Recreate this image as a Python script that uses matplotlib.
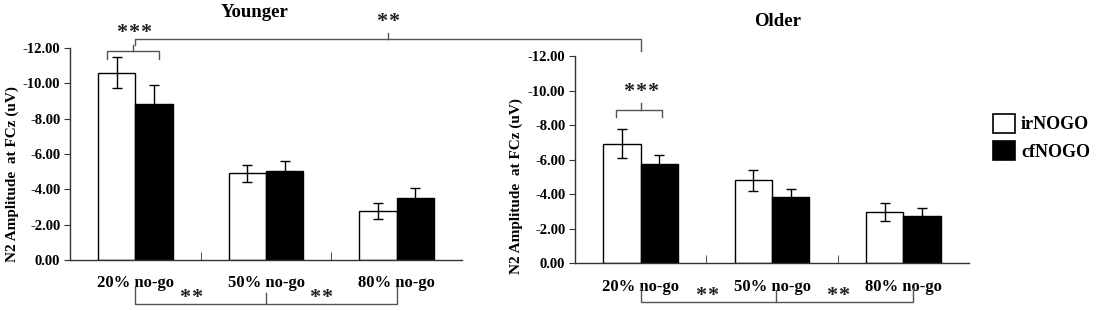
import matplotlib
matplotlib.use("Agg")
import matplotlib.pyplot as plt
from matplotlib.lines import Line2D
from matplotlib.patches import Patch
from matplotlib.ticker import FormatStrFormatter

plt.rcParams['font.family'] = ['Liberation Serif', 'DejaVu Serif']
plt.rcParams['font.weight'] = 'bold'
plt.rcParams['axes.unicode_minus'] = False

conditions = ["20% no-go", "50% no-go", "80% no-go"]
series = ["irNOGO", "cfNOGO"]

# Younger group (N2 amplitude, uV)
young_ir = [-10.60, -4.90, -2.78]
young_ir_err = [0.88, 0.47, 0.46]
young_cf = [-8.83, -5.05, -3.52]
young_cf_err = [1.05, 0.53, 0.53]

# Older group
old_ir = [-6.92, -4.80, -2.95]
old_ir_err = [0.83, 0.62, 0.53]
old_cf = [-5.73, -3.86, -2.76]
old_cf_err = [0.54, 0.46, 0.42]

W, H = 1100, 310
fig = plt.figure(figsize=(W / 100, H / 100), dpi=100)
ax1 = fig.add_axes([70 / W, 50 / H, 392 / W, 212 / H])
ax2 = fig.add_axes([575 / W, 46.7 / H, 394 / W, 207.3 / H])

bw = 0.285
axcol = '#333333'


def draw_panel(ax, ir, ir_err, cf, cf_err):
    x = list(range(len(conditions)))
    ekw = dict(ecolor='black', elinewidth=1, capsize=3.5, capthick=1)
    ax.bar([i - bw / 2 for i in x], ir, bw, yerr=ir_err, color='white',
           edgecolor='black', linewidth=1, error_kw=ekw, zorder=2)
    ax.bar([i + bw / 2 for i in x], cf, bw, yerr=cf_err, color='black',
           edgecolor='black', linewidth=1, error_kw=ekw, zorder=2)
    ax.set_xlim(-0.5, 2.5)
    ax.set_ylim(0, -12)
    ax.set_yticks(range(0, -13, -2))
    ax.yaxis.set_major_formatter(FormatStrFormatter('%.2f'))
    ax.set_xticks(x)
    ax.set_xticklabels(conditions, fontsize=12, fontweight='bold')
    ax.set_xticks([0.5, 1.5], minor=True)
    ax.tick_params(axis='x', which='major', length=0, pad=11)
    ax.tick_params(axis='x', which='minor', direction='in', length=6,
                   color=axcol)
    ax.tick_params(axis='y', direction='out', length=4, color=axcol,
                   labelsize=10.5, pad=3)
    for lab in ax.get_yticklabels():
        lab.set_fontweight('bold')
    for s in ('top', 'right'):
        ax.spines[s].set_visible(False)
    for s in ('left', 'bottom'):
        ax.spines[s].set_color(axcol)
        ax.spines[s].set_linewidth(1)


draw_panel(ax1, young_ir, young_ir_err, young_cf, young_cf_err)
draw_panel(ax2, old_ir, old_ir_err, old_cf, old_cf_err)

ylab = "N2 Amplitude  at FCz (uV)"
fig.text(12 / W, 1 - 174.5 / H, ylab, rotation=90, ha='center', va='center',
         fontsize=11, fontweight='bold')
fig.text(516 / W, 1 - 186 / H, ylab, rotation=90, ha='center', va='center',
         fontsize=11, fontweight='bold')
fig.text(255 / W, 1 - 12.5 / H, "Younger", ha='center', va='center',
         fontsize=13.5, fontweight='bold')
fig.text(778 / W, 1 - 21.5 / H, "Older", ha='center', va='center',
         fontsize=13.5, fontweight='bold')

# significance brackets
inv = fig.transFigure.inverted()
bcol = '#555555'
star_pt = 16
star_pitch = 12  # px between asterisk centres


def fx(ax, xd):
    return inv.transform(ax.transData.transform((xd, 0)))[0]


def fy(py):
    return 1 - py / H


def path(pts):
    fig.add_artist(Line2D([p[0] for p in pts], [fy(p[1]) for p in pts],
                          transform=fig.transFigure, color=bcol, lw=1))


def stars(x, py, n):
    # py is the visual centre of the asterisks; they sit above the baseline
    base = py + 0.4 * star_pt * 100 / 72
    for k in range(n):
        xk = x + (k - (n - 1) / 2) * star_pitch / W
        fig.text(xk, fy(base), "*", ha='center', va='baseline',
                 fontsize=star_pt, fontweight='bold', color='#222222')


# younger 20%: ir vs cf
path([(fx(ax1, -0.22), 59), (fx(ax1, -0.22), 50.7), (fx(ax1, 0.18), 50.7),
      (fx(ax1, 0.18), 59)])
path([(fx(ax1, -0.015), 50.7), (fx(ax1, -0.015), 45)])
stars(fx(ax1, -0.015), 29, 3)

# younger vs older at 20%
xl, xr = fx(ax1, 0.0), fx(ax2, 0.0)
path([(xl, 45), (xl, 39), (xr, 39), (xr, 51)])
path([((xl + xr) / 2, 39), ((xl + xr) / 2, 33)])
stars((xl + xr) / 2, 18, 2)

# older 20%: ir vs cf
path([(fx(ax2, -0.19), 117), (fx(ax2, -0.19), 110), (fx(ax2, 0.16), 110),
      (fx(ax2, 0.16), 117)])
path([(fx(ax2, 0.0), 110), (fx(ax2, 0.0), 103)])
stars(fx(ax2, 0.0), 88, 3)

# bottom brackets: condition effects
path([(fx(ax1, 0), 287), (fx(ax1, 0), 304), (fx(ax1, 2), 304),
      (fx(ax1, 2), 287)])
path([(fx(ax1, 1), 304), (fx(ax1, 1), 293)])
stars(fx(ax1, 0.42), 294, 2)
stars(fx(ax1, 1.42), 294, 2)

path([(fx(ax2, 0), 288), (fx(ax2, 0), 302), (fx(ax2, 2.07), 302),
      (fx(ax2, 2.07), 288)])
path([(fx(ax2, 1.03), 302), (fx(ax2, 1.03), 290)])
stars(fx(ax2, 0.5), 292, 2)
stars(fx(ax2, 1.5), 292, 2)

handles = [Patch(facecolor='white', edgecolor='black', linewidth=1.2),
           Patch(facecolor='black', edgecolor='black', linewidth=1.2)]
fig.legend(handles, series, loc='upper left', bbox_to_anchor=(993 / W, 1 - 114 / H),
           frameon=False, handlelength=1.2, handleheight=1.2, handletextpad=0.35,
           labelspacing=0.45, borderaxespad=0, borderpad=0,
           prop={'size': 13, 'weight': 'bold'})

fig.savefig('out.png', dpi=100)
